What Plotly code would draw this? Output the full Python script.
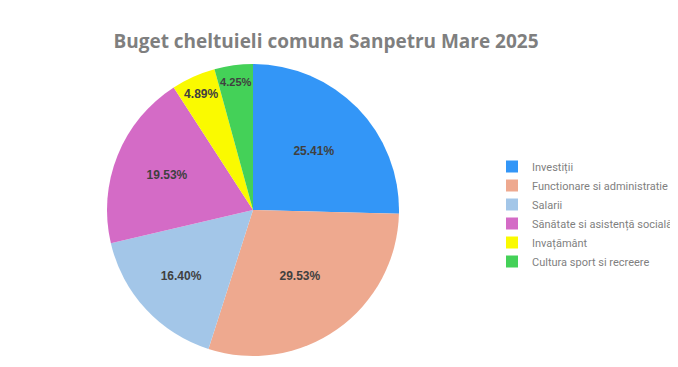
import plotly.graph_objects as go

categories = ["Investiții", "Functionare si administratie", "Salarii",
              "Sănătate si asistență socială", "Invațământ", "Cultura sport si recreere"]
values = [25.41, 29.53, 16.40, 19.53, 4.89, 4.25]
colors = ["#3396f7", "#eea98f", "#a3c6e8", "#d46bc6", "#fafa00", "#44d158"]

W, H = 678, 367
R = 146
CX, CY = 245, 202

fig = go.Figure(go.Pie(
    labels=categories,
    values=values,
    sort=False,
    direction="clockwise",
    rotation=0,
    marker=dict(colors=colors, line=dict(width=0)),
    texttemplate="%{percent:.2%}",
    textposition="inside",
    insidetextorientation="horizontal",
    textfont=dict(family="Liberation Sans, Arial, sans-serif", size=12, color="#404040", weight="bold"),
    hoverinfo="label+percent",
    domain=dict(x=[(CX - R) / W, (CX + R) / W], y=[(H - CY - R) / H, (H - CY + R) / H]),
))

fig.update_layout(
    width=W, height=H,
    margin=dict(l=0, r=0, t=0, b=0),
    paper_bgcolor="white",
    plot_bgcolor="white",
    title=dict(
        text="<b>Buget cheltuieli comuna Sanpetru Mare 2025</b>",
        x=318 / W, xanchor="center",
        y=1 - 33 / H, yanchor="middle",
        font=dict(family="Open Sans, Liberation Sans, sans-serif", size=19, color="#7f7f7f"),
    ),
    legend=dict(
        x=484 / W, xanchor="left",
        y=1 - 206 / H, yanchor="middle",
        itemwidth=30,
        font=dict(family="Roboto, Liberation Sans, sans-serif", size=11, color="#7f7f7f"),
        bgcolor="rgba(0,0,0,0)",
    ),
)

fig.write_html("out.html")
